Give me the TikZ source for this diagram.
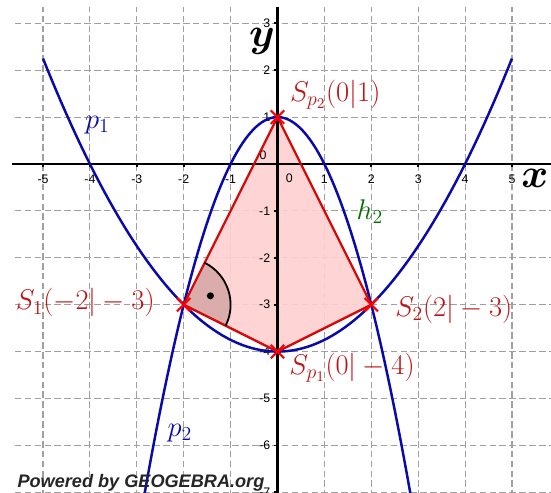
\documentclass[tikz,border=0pt]{standalone}
\usepackage{fontspec}
\usetikzlibrary{shapes.misc}
\newfontfamily\ggbsans{Liberation Sans}
\definecolor{ggbblue}{RGB}{10,10,170}
\definecolor{ggbred}{RGB}{210,10,10}
\definecolor{lblred}{RGB}{190,20,20}
\definecolor{gridgray}{RGB}{160,160,160}
\definecolor{ggbgreen}{RGB}{0,110,0}
\definecolor{kitepink}{RGB}{255,208,208}
\definecolor{anglepink}{RGB}{218,172,172}
\begin{document}
\begin{tikzpicture}[x=1cm,y=1cm,
  gridline/.style={draw=gridgray, line width=0.7pt, dash pattern=on 4pt off 2pt},
  axisline/.style={draw=black, line width=1.4pt},
  tickmark/.style={draw=black, line width=1pt},
  curve/.style={draw=ggbblue, line width=1.5pt},
  edgeline/.style={draw=ggbred, line width=1.4pt},
  ptmark/.style={cross out, draw=red, line width=1.3pt, minimum size=0.24cm, inner sep=0pt},
  ptlabel/.style={text=lblred, font=\fontsize{18.7}{21}\selectfont, inner sep=0pt},
  curvelabel/.style={font=\fontsize{18}{20}\selectfont, inner sep=0pt},
  axislabel/.style={font=\fontsize{26}{28}\selectfont\boldmath, inner sep=0pt},
  ticklbl/.style={font=\ggbsans\fontsize{7.5}{8.5}\selectfont, inner sep=0pt},
]
\useasboundingbox (-5.917,-6.994) rectangle (5.832,3.497);
\fill[white] (-5.917,-6.994) rectangle (5.832,3.497);
\clip (-5.917,-6.994) rectangle (5.832,3.497);

% grid
\foreach \gx in {-5,...,5} \draw[gridline] (\gx,-7.1) -- (\gx,3.35);
\foreach \gy in {-7,...,3} \draw[gridline] (-5.6,\gy) -- (5.9,\gy);

% points
\coordinate (S1) at (-2,-3);
\coordinate (S2) at (2,-3);
\coordinate (Sp1) at (0,-4);
\coordinate (Sp2) at (0,1);

% kite fill
\fill[kitepink, opacity=0.9] (S1) -- (Sp1) -- (S2) -- (Sp2) -- cycle;
\fill[anglepink] (S1) -- ([shift={(-26.565:1)}]S1) arc[start angle=-26.565, end angle=63.435, radius=1] -- cycle;

% axes
\draw[axisline] (-5.66,0) -- (5.9,0);
\draw[axisline] (0,-7.1) -- (0,3.347);
\foreach \gx in {-5,...,5} \draw[tickmark] (\gx,0) -- (\gx,-0.07);
\foreach \gy in {-7,...,3} \draw[tickmark] (0,\gy) -- (-0.07,\gy);

% tick labels
\foreach \gx in {-5,-4,-3,-2,-1,1,2,3,4,5}
  \node[ticklbl] (tx\gx) at (\gx,-0.33) {\gx};
\node[ticklbl] (tx0) at (0.25,-0.31) {0};
\foreach \gy in {-7,-6,-5,-4,-3,-2,-1,1,2,3}
  \node[ticklbl, anchor=east] (ty\gy) at (-0.15,\gy) {\gy};
\node[ticklbl] (ty0) at (-0.31,0.19) {0};

% axis labels
\node[axislabel] (ylab) at (-0.33,2.62) {$y$};
\node[axislabel] (xlab) at (5.49,-0.30) {$x$};

% parabolas
\draw[curve, domain=-5:5, samples=100] plot (\x, {\x*\x/4-4});
\draw[curve, domain=-2.95:2.95, samples=100] plot (\x, {1-\x*\x});

% kite edges
\draw[edgeline] (S1) -- (Sp2) -- (S2) -- (Sp1) -- cycle;

% right angle marker
\draw[black, line width=1.1pt] ([shift={(-26.565:1)}]S1) arc[start angle=-26.565, end angle=63.435, radius=1];
\fill[black] ([shift={(18.43:0.6)}]S1) circle (0.075);

% point marks
\node[ptmark] (mS1) at (S1) {};
\node[ptmark] (mS2) at (S2) {};
\node[ptmark] (mSp1) at (Sp1) {};
\node[ptmark] (mSp2) at (Sp2) {};

% labels
\node[ptlabel] (lSp2) at (1.23,1.48) {$S_{p_2}(0|1)$};
\node[ptlabel] (lS1) at (-4.10,-2.96) {$S_1(-2|-3)$};
\node[ptlabel] (lS2) at (3.76,-3.10) {$S_2(2|-3)$};
\node[ptlabel] (lSp1) at (1.59,-4.34) {$S_{p_1}(0|-4)$};

\node[curvelabel, text=ggbblue] (lp1) at (-3.84,0.83) {$p_1$};
\node[curvelabel, text=ggbblue] (lp2) at (-2.08,-5.74) {$p_2$};
\node[curvelabel, text=ggbgreen] (lh2) at (1.97,-1.02) {$h_2$};

\node[font=\ggbsans\bfseries\itshape\fontsize{11}{12}\selectfont, text=black!85, anchor=west, inner sep=0pt] (ggb) at (-5.55,-6.79) {Powered by GEOGEBRA.org};
\end{tikzpicture}
\end{document}
